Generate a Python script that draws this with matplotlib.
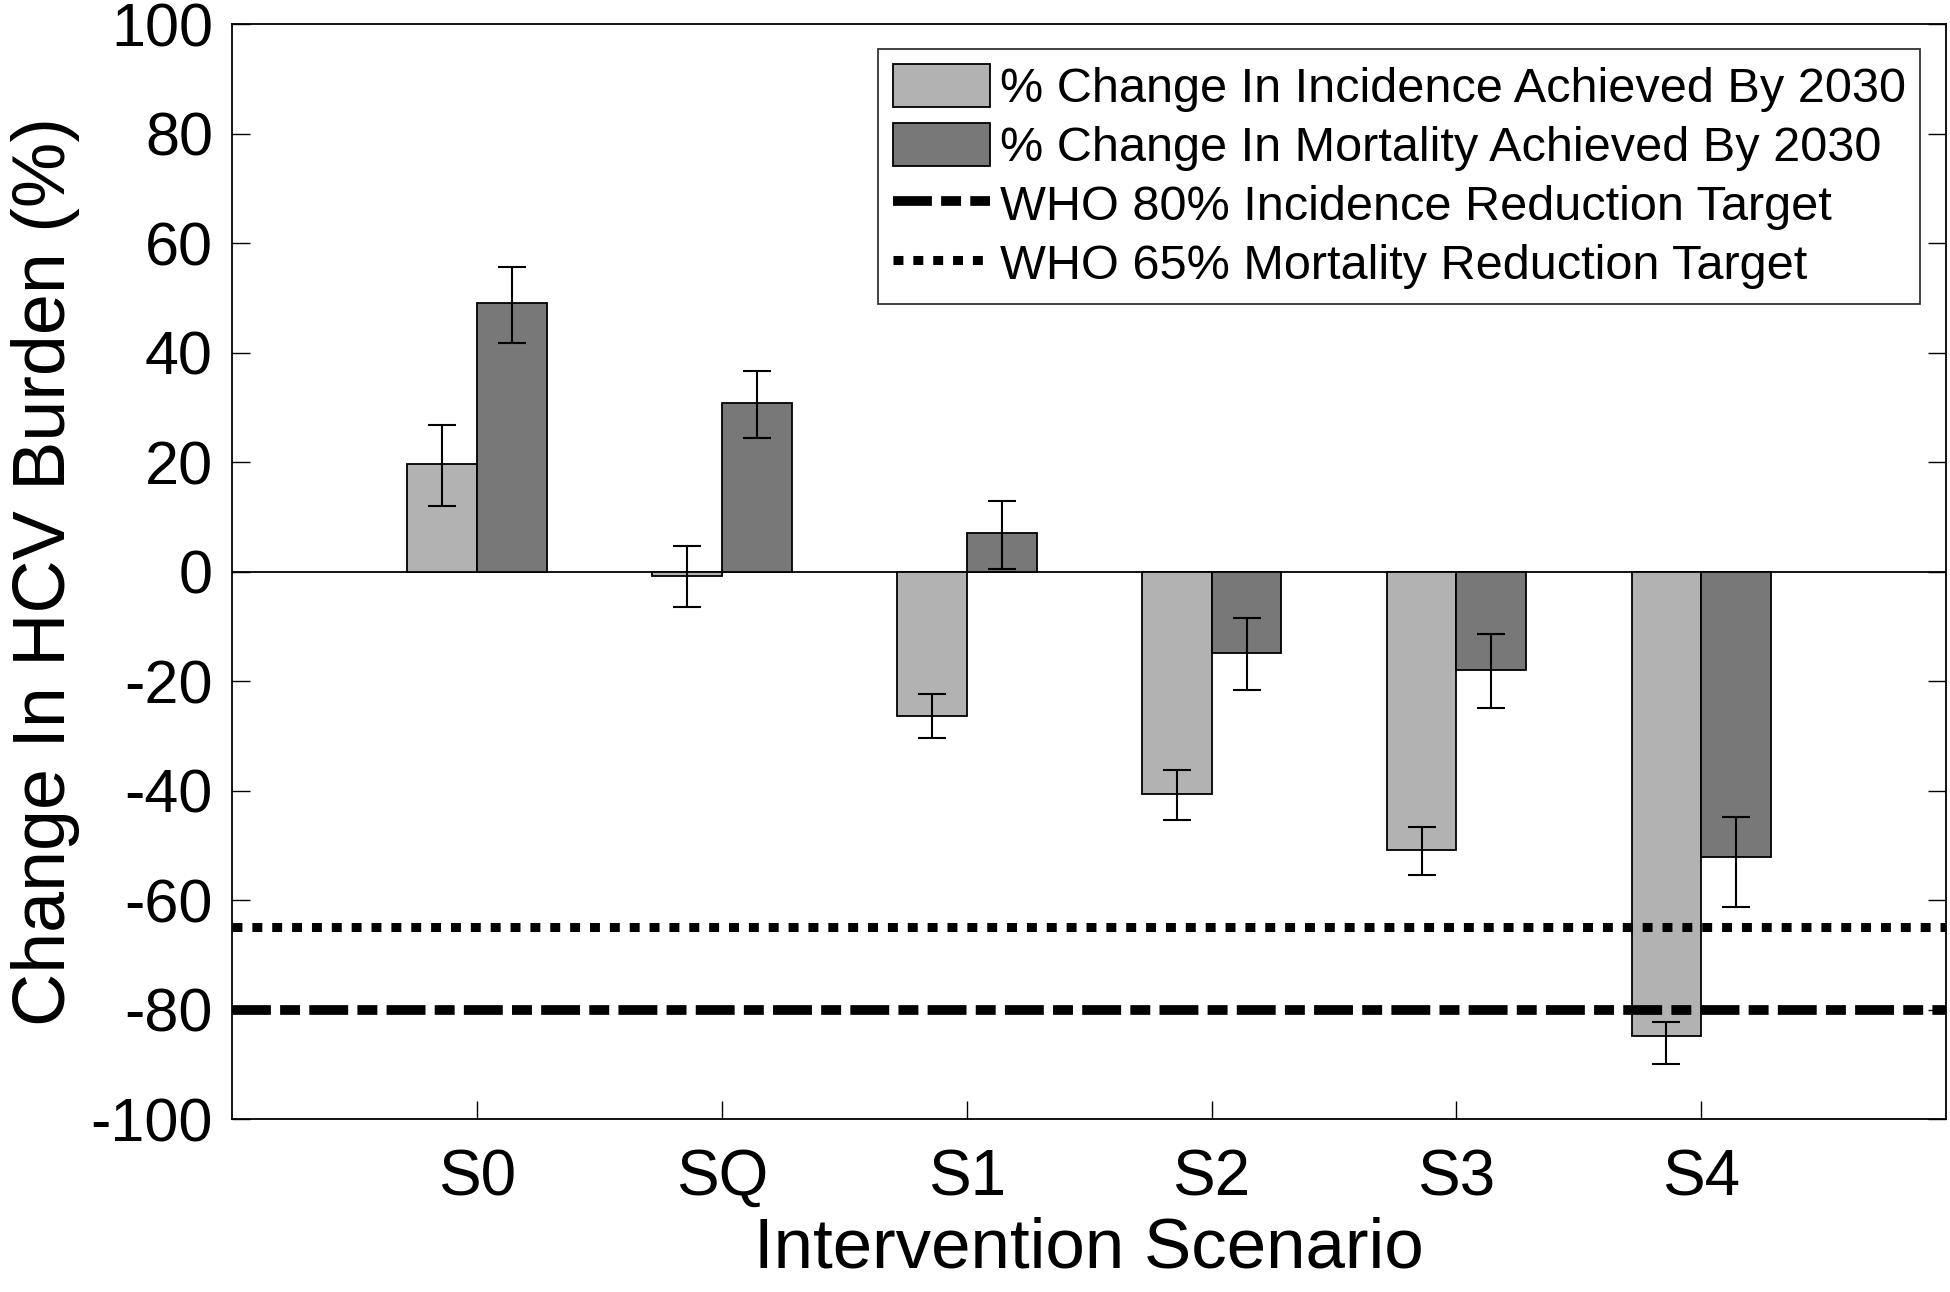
import numpy as np
import matplotlib
matplotlib.use("Agg")
import matplotlib.pyplot as plt

plt.rcParams["font.family"] = ["Liberation Sans", "DejaVu Sans"]
plt.rcParams["axes.unicode_minus"] = False

scenarios = ["S0", "SQ", "S1", "S2", "S3", "S4"]
# % change in incidence by 2030 (value, upper and lower bound)
inc = [19.6, -0.8, -26.4, -40.7, -50.8, -84.8]
inc_hi = [26.8, 4.7, -22.3, -36.3, -46.6, -82.3]
inc_lo = [12.0, -6.5, -30.5, -45.3, -55.4, -89.9]
# % change in mortality by 2030
mort = [49.0, 30.7, 7.0, -14.8, -17.9, -52.1]
mort_hi = [55.6, 36.6, 12.9, -8.5, -11.5, -44.9]
mort_lo = [41.8, 24.4, 0.5, -21.7, -24.9, -61.2]
who_inc, who_mort = -80, -65

LIGHT, DARK = "#b2b2b2", "#787878"
x = np.arange(1, len(scenarios) + 1)
w = 0.285

fig = plt.figure(figsize=(19.5, 12.92), dpi=100)
ax = fig.add_axes([0.1192, 0.1339, 0.8788, 0.8475])

b1 = ax.bar(x - w/2, inc, w, color=LIGHT, edgecolor="black", linewidth=1.3,
            label="% Change In Incidence Achieved By 2030", zorder=2)
b2 = ax.bar(x + w/2, mort, w, color=DARK, edgecolor="black", linewidth=1.3,
            label="% Change In Mortality Achieved By 2030", zorder=2)

inc_a, mort_a = np.array(inc), np.array(mort)
ax.errorbar(x - w/2, inc_a, yerr=[inc_a - np.array(inc_lo), np.array(inc_hi) - inc_a],
            fmt="none", ecolor="black", elinewidth=1.5, capsize=10, capthick=1.5, zorder=3)
ax.errorbar(x + w/2, mort_a, yerr=[mort_a - np.array(mort_lo), np.array(mort_hi) - mort_a],
            fmt="none", ecolor="black", elinewidth=1.5, capsize=10, capthick=1.5, zorder=3)

ax.axhline(0, color="black", linewidth=1.3, zorder=1)
l1 = ax.axhline(who_inc, color="black", linewidth=7, linestyle=(0, (4.0, 0.95, 2.05, 0.95)),
                label="WHO 80% Incidence Reduction Target", zorder=4)
l2 = ax.axhline(who_mort, color="black", linewidth=6.5, linestyle=(0, (1.1, 1.1)),
                label="WHO 65% Mortality Reduction Target", zorder=4)

ax.set_xlim(0, 7)
ax.set_ylim(-100, 100)
ax.set_xticks(x)
ax.set_xticklabels(scenarios)
ax.set_yticks(np.arange(-100, 101, 20))
ax.tick_params(direction="in", length=13, width=1.0, top=True, right=True)
ax.tick_params(axis="y", labelsize=44, pad=14)
ax.tick_params(axis="x", labelsize=46, pad=21)
ax.tick_params(axis="x", top=False)
for s in ax.spines.values():
    s.set_linewidth(1.3)

ax.set_xlabel("Intervention Scenario", fontsize=51, labelpad=6)
ax.set_ylabel("Change In HCV Burden (%)", fontsize=53, labelpad=8)

leg = ax.legend(handles=[b1, b2, l1, l2], loc="upper right", bbox_to_anchor=(0.985, 0.977),
                fontsize=35, frameon=True, fancybox=False, edgecolor="black",
                handlelength=2.0, handleheight=1.0, handletextpad=0.2,
                labelspacing=0.22, borderpad=0.3, borderaxespad=0)
leg.get_frame().set_linewidth(1.3)

fig.savefig("out.png", dpi=100, facecolor="white")
